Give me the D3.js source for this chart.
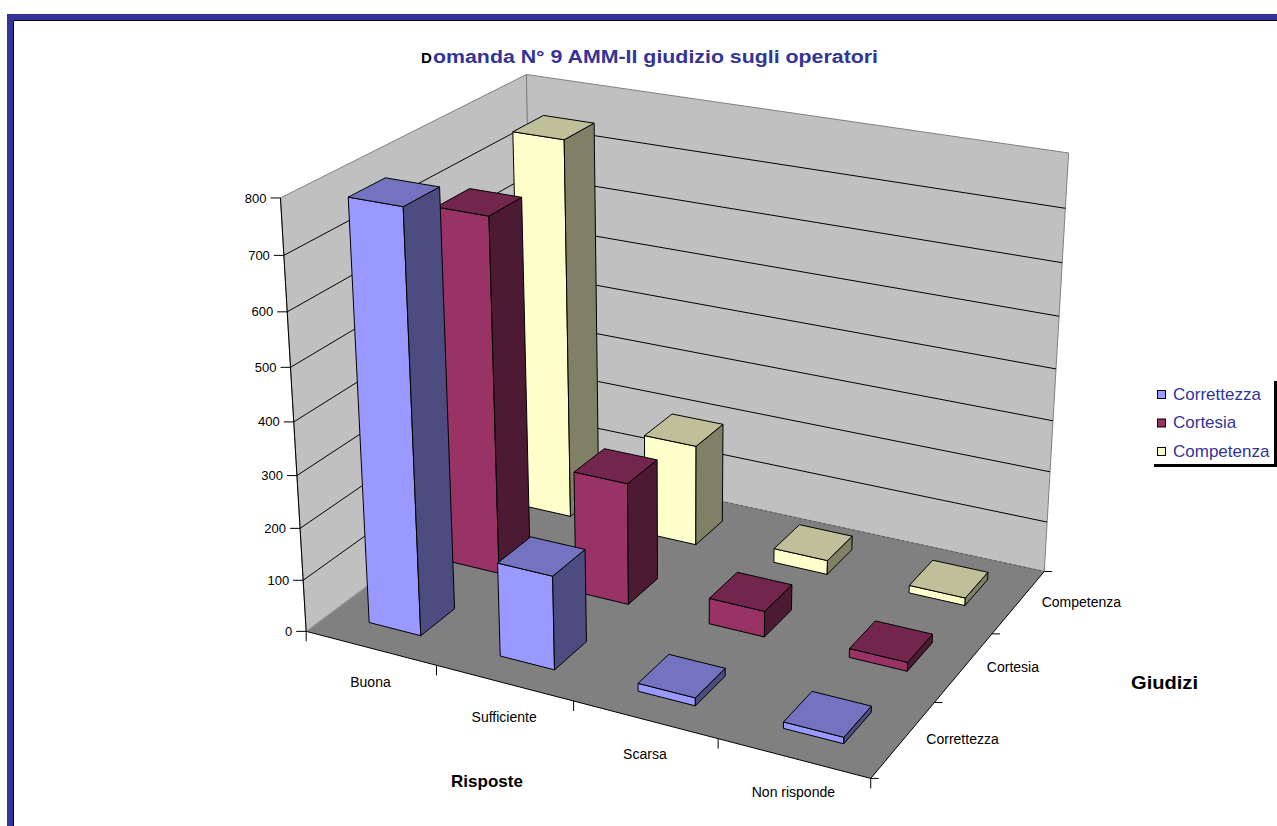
<!DOCTYPE html>
<html lang="it">
<head>
<meta charset="utf-8">
<title>Domanda N° 9 AMM - Il giudizio sugli operatori</title>
<script src="https://cdn.jsdelivr.net/npm/d3@7"></script>
<style>
  body { margin: 0; background: #fff; }
  svg { display: block; font-family: Arial, "Liberation Sans", sans-serif; }
</style>
</head>
<body>
<svg id="chart" width="1277" height="826"></svg>
<script>
// --- dati ---
const categorie = ["Buona", "Sufficiente", "Scarsa", "Non risponde"];
const serie = ["Correttezza", "Cortesia", "Competenza"];
const valCorrettezza = [790, 178, 15, 12];
const valCortesia = [690, 237, 50, 17];
const valCompetenza = [752, 201, 28, 15];
const yTicks = [0, 100, 200, 300, 400, 500, 600, 700, 800];

const valori = [valCorrettezza, valCortesia, valCompetenza];

// colori tipo Excel: fronte, lato, sopra
const colori = [
  { front: "#9999FF", side: "#4C4C80", top: "#7373BF" },
  { front: "#993366", side: "#4D1A33", top: "#73264D" },
  { front: "#FFFFCC", side: "#808066", top: "#BFBF99" }
];

const svg = d3.select("#chart");

// scale "mondo": categorie lungo x, serie in profondita (z), valori in altezza
const xCat = d3.scalePoint().domain(categorie).range([0, 4]).padding(0.5);
const zSer = d3.scalePoint().domain(serie).range([0, 3]).padding(0.5);
const yVal = d3.scaleLinear().domain([0, 800]).range([0, 4]);
const halfW = 0.2, halfD = 0.21;

// punti di riferimento per la prospettiva: [x, valore, z, px, py]
const ancore = [
  [0, 0, 0, 307, 632],
  [1, 0, 0, 437, 665],
  [2, 0, 0, 573, 701],
  [3, 0, 0, 718, 739],
  [4, 0, 0, 870, 778],
  [4, 0, 1, 935, 702],
  [4, 0, 2, 992, 634],
  [4, 0, 3, 1045, 572],
  [0, 0, 3, 533, 460],
  [0, 200, 0, 301, 529],
  [0, 400, 0, 294, 422],
  [0, 600, 0, 287, 312],
  [0, 800, 0, 279, 197],
  [0, 800, 3, 528, 75],
  [4, 800, 3, 1068, 153]
];

// stima della matrice di proiezione (DLT, minimi quadrati)
function fitProjection(pts) {
  const A = [], b = [];
  pts.forEach(function(p) {
    const X = p[0], Y = yVal(p[1]), Z = p[2], u = p[3], v = p[4];
    A.push([X, Y, Z, 1, 0, 0, 0, 0, -u * X, -u * Y, -u * Z]); b.push(u);
    A.push([0, 0, 0, 0, X, Y, Z, 1, -v * X, -v * Y, -v * Z]); b.push(v);
  });
  const n = 11;
  const M = [];
  for (let i = 0; i < n; i++) {
    M.push([]);
    for (let j = 0; j <= n; j++) {
      let s = 0;
      for (let k = 0; k < A.length; k++) s += A[k][i] * (j < n ? A[k][j] : b[k]);
      M[i].push(s);
    }
  }
  for (let c = 0; c < n; c++) {
    let piv = c;
    for (let r = c + 1; r < n; r++) if (Math.abs(M[r][c]) > Math.abs(M[piv][c])) piv = r;
    const t = M[c]; M[c] = M[piv]; M[piv] = t;
    for (let r = 0; r < n; r++) {
      if (r === c) continue;
      const f = M[r][c] / M[c][c];
      for (let j = c; j <= n; j++) M[r][j] -= f * M[c][j];
    }
  }
  return M.map(function(row, i) { return row[n] / row[i]; });
}

const P = fitProjection(ancore);

// x = categoria, h = altezza mondo, z = profondita
function proj(x, h, z) {
  const w = P[8] * x + P[9] * h + P[10] * z + 1;
  return [(P[0] * x + P[1] * h + P[2] * z + P[3]) / w,
          (P[4] * x + P[5] * h + P[6] * z + P[7]) / w];
}
function pv(x, v, z) { return proj(x, yVal(v), z); }

const line = d3.line();
function poly(pts) { return line(pts) + "Z"; }

// --- cornice ---
svg.append("rect").attr("x", 10).attr("y", 17).attr("width", 1300).attr("height", 900)
  .attr("fill", "#fff").attr("stroke", "#333399").attr("stroke-width", 6);
svg.append("path").attr("d", "M13.5,900V20.5H1300").attr("fill", "none")
  .attr("stroke", "#000").attr("stroke-width", 1);

// --- titolo ---
svg.append("text").attr("x", 421).attr("y", 63).attr("font-size", 15).attr("font-weight", "bold")
  .attr("fill", "#000").text("D");
svg.append("text").attr("x", 433).attr("y", 63).attr("font-size", 18).attr("font-weight", "bold")
  .attr("fill", "#333399").attr("textLength", 445).attr("lengthAdjust", "spacingAndGlyphs")
  .text("omanda N° 9 AMM-Il giudizio sugli operatori");

// --- pareti e pavimento ---
const vMax = 800;
const g = svg.append("g");
g.append("path").attr("d", poly([pv(0, 0, 0), pv(0, 0, 3), pv(0, vMax, 3), pv(0, vMax, 0)]))
  .attr("fill", "#C0C0C0").attr("stroke", "#808080");
g.append("path").attr("d", poly([pv(0, 0, 3), pv(4, 0, 3), pv(4, vMax, 3), pv(0, vMax, 3)]))
  .attr("fill", "#C0C0C0").attr("stroke", "#808080");
g.append("path").attr("d", poly([pv(0, 0, 0), pv(4, 0, 0), pv(4, 0, 3), pv(0, 0, 3)]))
  .attr("fill", "#808080").attr("stroke", "none");
g.append("path").attr("d", line([pv(0, 0, 3), pv(4, 0, 3)]))
  .attr("stroke", "#5a5a5a").attr("stroke-dasharray", "3,2").attr("fill", "none");
g.append("path").attr("d", line([pv(0, 0, 0), pv(0, 0, 3)]))
  .attr("stroke", "#a0a0a0").attr("fill", "none");

// griglia
g.selectAll("path.grid").data(yTicks.filter(function(t) { return t > 0 && t < vMax; }))
  .enter().append("path").attr("class", "grid")
  .attr("d", function(t) { return line([pv(0, t, 0), pv(0, t, 3), pv(4, t, 3)]); })
  .attr("fill", "none").attr("stroke", "#000").attr("stroke-width", 1);

// --- assi ---
const ax = svg.append("g").attr("stroke", "#000").attr("fill", "none");
ax.append("path").attr("d", line([pv(0, 0, 0), pv(0, vMax, 0)]));
ax.append("path").attr("d", line([pv(0, 0, 0), pv(4, 0, 0)]));
ax.append("path").attr("d", line([pv(4, 0, 0), pv(4, 0, 3)]));

yTicks.forEach(function(t) {
  const p = pv(0, t, 0);
  ax.append("path").attr("d", "M" + (p[0] - 10) + "," + p[1] + "H" + p[0]);
  svg.append("text").attr("x", p[0] - 14).attr("y", p[1]).attr("dy", "0.35em")
    .attr("text-anchor", "end").attr("font-size", 13).attr("fill", "#000").text(t);
});
d3.range(0, 5).forEach(function(i) {
  const p = pv(i, 0, 0);
  ax.append("path").attr("d", "M" + p[0] + "," + p[1] + "V" + (p[1] + 10));
});
d3.range(0, 4).forEach(function(i) {
  const p = pv(4, 0, i);
  ax.append("path").attr("d", "M" + p[0] + "," + p[1] + "H" + (p[0] + 8));
});

categorie.forEach(function(c) {
  const p = pv(xCat(c), 0, 0);
  svg.append("text").attr("x", p[0]).attr("y", p[1] + 39).attr("text-anchor", "middle")
    .attr("font-size", 14).attr("fill", "#000").text(c);
});
serie.forEach(function(s) {
  const p = pv(4, 0, zSer(s));
  svg.append("text").attr("x", p[0] + 23).attr("y", p[1]).attr("dy", "0.35em")
    .attr("font-size", 14).attr("fill", "#000").text(s);
});

svg.append("text").attr("x", 487).attr("y", 787).attr("text-anchor", "middle")
  .attr("font-size", 17).attr("font-weight", "bold").text("Risposte");
svg.append("text").attr("x", 1131).attr("y", 689)
  .attr("font-size", 18).attr("font-weight", "bold")
  .attr("textLength", 67).attr("lengthAdjust", "spacingAndGlyphs").text("Giudizi");

// --- barre 3D (dal fondo verso il davanti) ---
const bars = svg.append("g").attr("stroke", "#000").attr("stroke-width", 1).attr("stroke-linejoin", "round");
d3.range(serie.length - 1, -1, -1).forEach(function(si) {
  const z = zSer(serie[si]);
  const col = colori[si];
  categorie.forEach(function(c, ci) {
    const x = xCat(c);
    const h = yVal(valori[si][ci]);
    const x0 = x - halfW, x1 = x + halfW, z0 = z - halfD, z1 = z + halfD;
    const bg = bars.append("g");
    bg.append("path").attr("d", poly([proj(x0, 0, z0), proj(x1, 0, z0), proj(x1, h, z0), proj(x0, h, z0)]))
      .attr("fill", col.front);
    bg.append("path").attr("d", poly([proj(x1, 0, z0), proj(x1, 0, z1), proj(x1, h, z1), proj(x1, h, z0)]))
      .attr("fill", col.side);
    bg.append("path").attr("d", poly([proj(x0, h, z0), proj(x1, h, z0), proj(x1, h, z1), proj(x0, h, z1)]))
      .attr("fill", col.top);
  });
});

// --- legenda ---
const leg = svg.append("g");
leg.append("rect").attr("x", 1154).attr("y", 381).attr("width", 123).attr("height", 86).attr("fill", "#000");
leg.append("rect").attr("x", 1150).attr("y", 377).attr("width", 124).attr("height", 87).attr("fill", "#fff");
serie.forEach(function(s, i) {
  const y = 390 + i * 28.5;
  leg.append("rect").attr("x", 1157.5).attr("y", y + 0.5).attr("width", 8).attr("height", 8)
    .attr("fill", colori[i].front).attr("stroke", "#000");
  leg.append("text").attr("x", 1173).attr("y", y + 9.5).attr("font-size", 17)
    .attr("fill", "#333399").text(s);
});
</script>
</body>
</html>
